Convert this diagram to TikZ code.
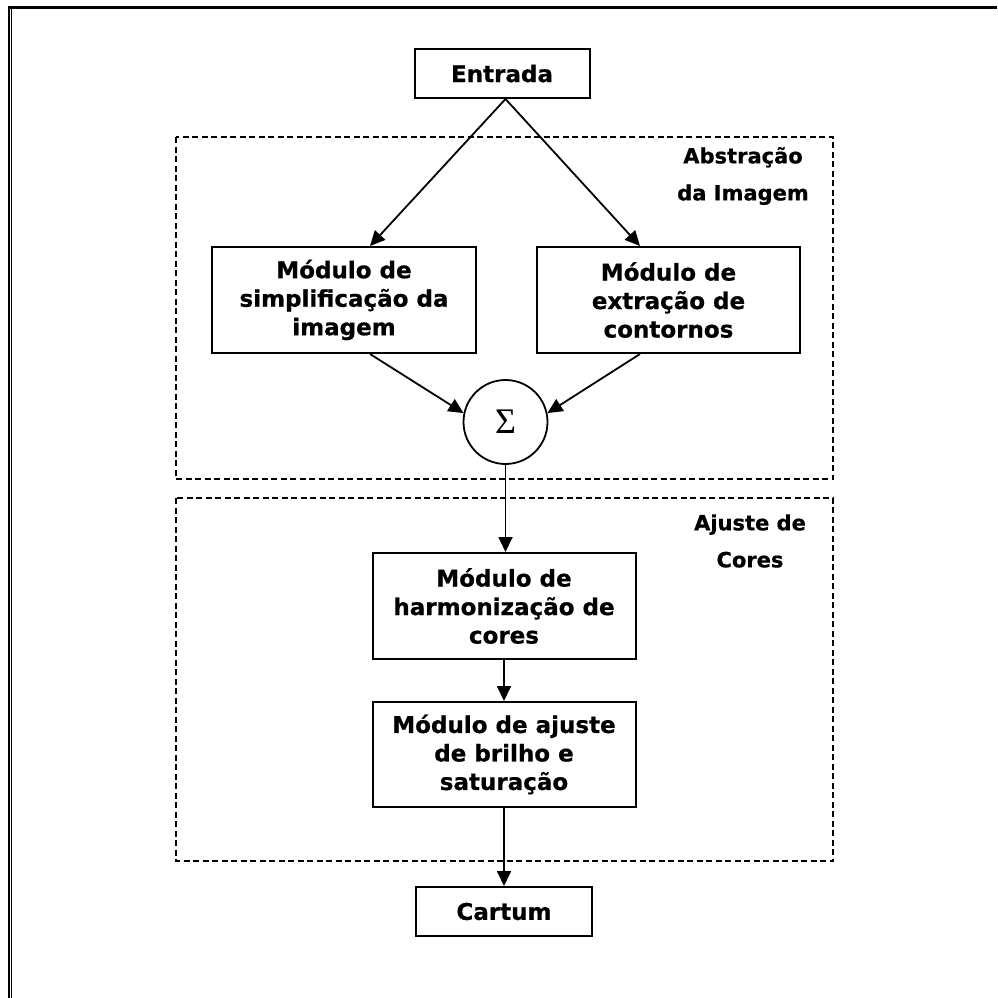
\documentclass[tikz,border=0pt]{standalone}
\usepackage{fontspec}
\setmainfont{DejaVu Sans}[BoldFeatures={FakeBold=0.7}]
\newfontfamily\sigmafont{Liberation Serif}
\usetikzlibrary{arrows.meta,calc}
\begin{document}
\begin{tikzpicture}[x=1pt,y=-1pt,
  modbox/.style={draw,line width=2pt,inner sep=0pt,align=center,
    font=\fontsize{23}{28.5}\selectfont\bfseries},
  grp/.style={draw,line width=1.6pt,dash pattern=on 6pt off 3.5pt},
  grplabel/.style={align=center,inner sep=0pt,font=\fontsize{21}{37}\selectfont\bfseries},
  conn/.style={line width=1.8pt,-{Triangle[length=15pt,width=14pt]}}]
\useasboundingbox (0,0) rectangle (997,998);
% page frame (top and left only)
\draw[line width=3pt] (8,7.5) -- (997,7.5);
\draw[line width=2.2pt] (9.3,6) -- (9.3,998);
\draw[line width=1pt] (11.8,9) -- (11.8,998);
% group frames
\draw[grp] (176,137) rectangle (833,479);
\draw[grp] (176,498) rectangle (833,861);
\node[grplabel] (labA) at (743,176) {Abstração\\da Imagem};
\node[grplabel] (labB) at (750,541) {Ajuste de\\Cores};
% nodes
\node[modbox,minimum width=175pt,minimum height=49pt] (entrada) at (502,73.5) {Entrada};
\node[modbox,minimum width=264pt,minimum height=106pt] (lbox) at (344,300) {Módulo de\\simplificação da\\imagem};
\node[modbox,minimum width=263pt,minimum height=106pt] (rbox) at (668.5,300) {Módulo de\\extração de\\contornos};
\node[circle,draw,line width=1.8pt,minimum size=84pt,inner sep=0pt,
  font=\fontsize{36}{36}\sigmafont] (sum) at (505.5,422) {Σ};
\node[modbox,minimum width=263pt,minimum height=106pt] (harm) at (504,606) {Módulo de\\harmonização de\\cores};
\node[modbox,minimum width=263pt,minimum height=105pt] (bril) at (504,754.5) {Módulo de ajuste\\de brilho e\\saturação};
\node[modbox,minimum width=176pt,minimum height=49pt] (cartum) at (504,911.5) {Cartum};
% connectors
\draw[conn] (entrada.south -| sum) -- ($(lbox.north)+(26,0)$);
\draw[conn] (entrada.south -| sum) -- ($(rbox.north)+(-28.5,0)$);
\draw[conn] ($(lbox.south)+(26,0)$) -- (sum.168);
\draw[conn] ($(rbox.south)+(-28.5,0)$) -- (sum.12);
\draw[conn] (sum.south) -- (sum.south |- harm.north);
\draw[conn] (harm) -- (bril);
\draw[conn] (bril) -- (cartum);
\end{tikzpicture}
\end{document}
